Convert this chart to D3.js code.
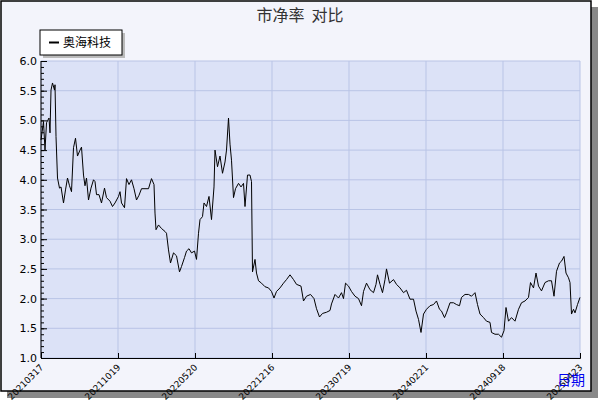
<!DOCTYPE html>
<html><head><meta charset="utf-8">
<script src="https://cdn.jsdelivr.net/npm/d3@7"></script>
<style>body{margin:0;background:#fff}svg{display:block}text{white-space:pre}</style></head>
<body><svg id="c" width="600" height="400"></svg>
<script>
const title = "市净率  对比";
const seriesName = "奥海科技";
const tickLabels = ["20210317","20211019","20220520","20221216","20230719","20240221","20240918","20250423"];
const tickDays = [0,154,308,462,616,770,924,1078];
const yTicks = [1.0,1.5,2.0,2.5,3.0,3.5,4.0,4.5,5.0,5.5,6.0];
const days = [0,5,8,11,16,18,20,23,27,28,30,33,37,40,45,49,53,57,61,65,69,73,78,81,85,88,91,95,100,105,108,111,116,121,127,131,138,143,148,155,158,161,167,171,176,181,186,191,196,201,208,215,221,226,228,230,235,241,248,251,255,259,265,271,277,281,287,291,296,301,307,311,315,318,323,326,331,336,341,346,348,353,358,363,368,371,375,378,381,385,389,395,400,405,408,413,418,421,423,428,431,435,441,448,455,461,466,471,478,485,491,498,505,511,520,525,531,539,546,551,557,563,571,578,581,588,595,601,605,609,615,621,628,635,641,645,651,658,665,670,673,678,683,688,691,697,705,711,718,725,731,738,745,750,755,760,765,771,778,785,791,797,801,807,811,818,825,831,837,841,848,855,861,868,873,878,885,891,898,901,908,915,921,926,930,935,941,948,955,961,968,975,979,985,990,995,1001,1008,1015,1021,1026,1031,1037,1041,1046,1050,1055,1058,1061,1065,1068,1073,1078];
const values = [4.67,4.98,4.5,4.96,5.04,4.79,5.51,5.63,5.51,5.6,4.73,4.03,3.86,3.88,3.61,3.83,4.03,3.9,3.8,4.54,4.7,4.4,4.5,4.55,4.08,3.9,4.03,3.66,3.86,4.0,3.97,3.75,3.75,3.61,3.86,3.7,3.64,3.55,3.61,3.72,3.8,3.61,3.53,4.02,3.92,4.0,3.85,3.66,3.74,3.85,3.85,3.85,4.02,3.92,3.44,3.16,3.24,3.18,3.13,3.1,2.82,2.6,2.77,2.72,2.45,2.54,2.69,2.8,2.84,2.77,2.8,2.66,3.1,3.33,3.38,3.61,3.55,3.72,3.33,3.88,4.5,4.22,4.4,4.11,4.3,4.5,5.04,4.6,4.33,3.7,3.85,3.94,3.88,3.94,3.55,4.08,4.08,3.97,2.45,2.66,2.43,2.3,2.26,2.2,2.18,2.12,2.01,2.12,2.18,2.26,2.32,2.4,2.32,2.24,2.21,1.96,2.04,2.07,2.0,1.83,1.69,1.75,1.77,1.8,1.91,2.07,2.01,2.1,2.0,2.26,2.21,2.12,2.04,2.0,1.88,2.12,2.26,2.15,2.1,2.24,2.4,2.24,2.1,2.32,2.5,2.26,2.32,2.24,2.18,2.1,2.14,1.99,1.99,1.79,1.65,1.43,1.74,1.82,1.88,1.9,1.96,1.82,1.79,1.68,1.76,1.93,1.93,1.9,1.88,2.02,2.07,2.07,2.04,2.1,1.9,1.74,1.68,1.62,1.6,1.43,1.4,1.4,1.35,1.46,1.85,1.62,1.68,1.62,1.82,1.93,1.96,2.02,2.27,2.18,2.43,2.21,2.13,2.27,2.3,2.3,2.04,2.46,2.6,2.63,2.71,2.43,2.35,2.27,1.74,1.82,1.76,1.9,2.02];

const svg = d3.select("#c");
const font = "'DejaVu Sans', sans-serif";
svg.append("rect").attr("x",7).attr("y",7).attr("width",591).attr("height",391).attr("fill","#888");
svg.append("rect").attr("x",1).attr("y",1).attr("width",590).attr("height",390).attr("fill","#f3f4fb").attr("stroke","#000").attr("stroke-width",1.5);

const L=41,R=580,T=61,B=358;
const x = d3.scaleLinear().domain([0,1078]).range([L,R]);
const y = d3.scaleLinear().domain([1,6]).range([B,T]);
svg.append("rect").attr("x",L).attr("y",T).attr("width",R-L).attr("height",B-T).attr("fill","#dce2f7");
const g = svg.append("g");
yTicks.forEach(v=>g.append("line").attr("x1",L).attr("x2",R).attr("y1",y(v)).attr("y2",y(v)).attr("stroke","#b9c4e6"));
tickDays.forEach(d=>g.append("line").attr("x1",x(d)).attr("x2",x(d)).attr("y1",T).attr("y2",B).attr("stroke","#b9c4e6"));

const ya = svg.append("g").attr("transform",`translate(${L},0)`)
  .call(d3.axisRight(y).tickValues(d3.range(10,61).map(d=>d/10)).tickSize(3).tickFormat(""));
ya.selectAll("line").attr("stroke","#000");
ya.select(".domain").remove();
svg.append("g").attr("transform",`translate(${L},0)`)
  .call(d3.axisRight(y).tickValues(yTicks).tickSize(6).tickFormat(""))
  .call(a=>a.select(".domain").remove()).selectAll("line").attr("stroke","#000");
svg.append("line").attr("x1",L).attr("x2",L).attr("y1",T).attr("y2",B).attr("stroke","#000");
yTicks.forEach(v=>svg.append("text").attr("x",L-4).attr("y",y(v)+4).attr("text-anchor","end")
  .attr("font-family",font).attr("font-size",11).text(v.toFixed(1)));

const xa = svg.append("g").attr("transform",`translate(0,${B})`)
  .call(d3.axisTop(x).tickValues(tickDays).tickSize(5).tickFormat(""));
xa.selectAll("line").attr("stroke","#000");
xa.select(".domain").attr("stroke","#000");
tickDays.forEach((d,i)=>svg.append("text").attr("transform",`translate(${x(d)+3},${B+10}) rotate(-45)`)
  .attr("text-anchor","end").attr("font-family",font).attr("font-size",9).text(tickLabels[i]));

const pts = days.map((d,i)=>[d,values[i]]);
svg.append("path").datum(pts).attr("fill","none").attr("stroke","#000").attr("stroke-width",1)
  .attr("d",d3.line().x(d=>x(d[0])).y(d=>y(d[1])));

svg.append("text").attr("x",300).attr("y",21).attr("text-anchor","middle").attr("font-family","'Noto Sans CJK SC', sans-serif").attr("font-size",16).attr("fill","#333").text(title);
svg.append("rect").attr("x",43).attr("y",33).attr("width",82).attr("height",25).attr("fill","#bbb");
svg.append("rect").attr("x",40).attr("y",30).attr("width",82).attr("height",25).attr("fill","#fff").attr("stroke","#000");
svg.append("line").attr("x1",49).attr("x2",59).attr("y1",42.5).attr("y2",42.5).attr("stroke","#000").attr("stroke-width",2);
svg.append("text").attr("x",63).attr("y",47).attr("font-family","'Noto Sans CJK SC', sans-serif").attr("font-size",12).text(seriesName);
svg.append("text").attr("x",557).attr("y",385).attr("font-family","'Noto Sans CJK SC', sans-serif").attr("font-size",14).attr("fill","#0000ee").text("日期");
</script></body></html>
